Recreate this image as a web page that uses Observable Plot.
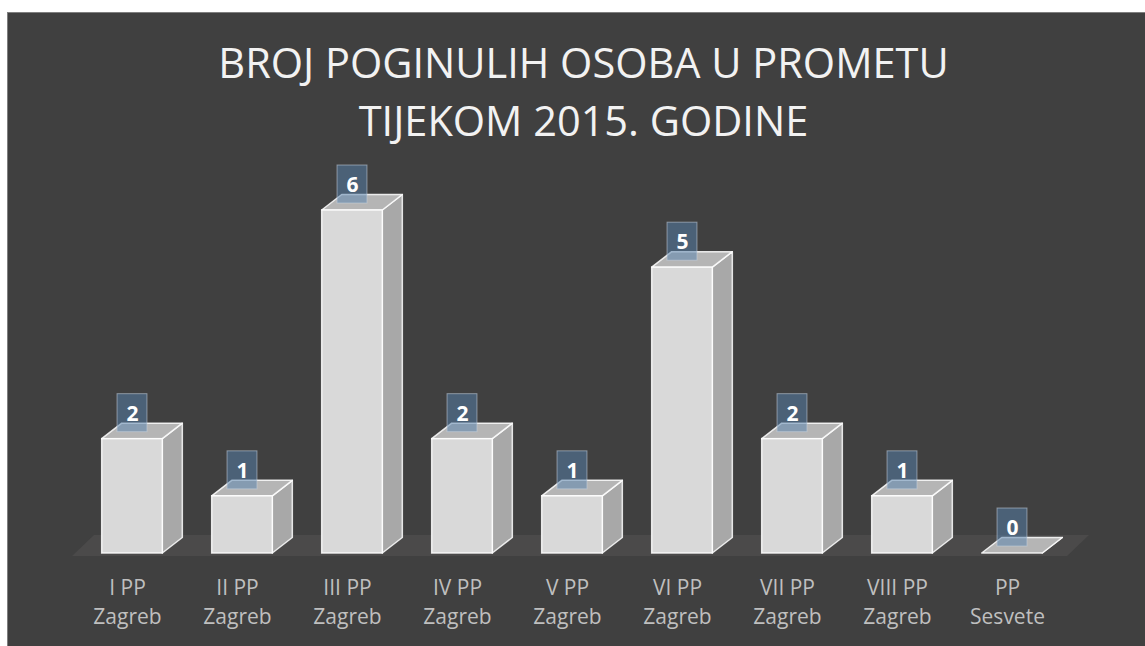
<!DOCTYPE html>
<html>
<head>
<meta charset="utf-8">
<script src="https://cdn.jsdelivr.net/npm/d3@7"></script>
<script src="https://cdn.jsdelivr.net/npm/@observablehq/plot@0.6"></script>
<style>
  html, body { margin: 0; padding: 0; background: #ffffff; width: 1145px; height: 646px; overflow: hidden; }
  #panel { position: absolute; left: 7px; top: 12px; width: 1140px; height: 640px; background: #404040;
           border-left: 1.5px solid #7f7f7f; border-top: 1.5px solid #7f7f7f; }
  #title { position: absolute; left: 11px; top: 33px; width: 1145px; text-align: center;
           font-family: "Open Sans", sans-serif; font-weight: 400; font-size: 41.5px; line-height: 58px;
           color: #f2f2f2; white-space: nowrap; }
  #chart { position: absolute; left: 0; top: 160px; }
</style>
</head>
<body>
<div id="panel"></div>
<div id="title">BROJ POGINULIH OSOBA U PROMETU<br>TIJEKOM 2015. GODINE</div>
<div id="chart"></div>
<script>
const categories = ["I PP\nZagreb", "II PP\nZagreb", "III PP\nZagreb", "IV PP\nZagreb", "V PP\nZagreb",
                    "VI PP\nZagreb", "VII PP\nZagreb", "VIII PP\nZagreb", "PP\nSesvete"];
const values = [2, 1, 6, 2, 1, 5, 2, 1, 0];

const bars = categories.map((c, i) => ({i, cat: c, v: values[i]}));

// 3D geometry (in scale units)
const hw = 0.2755;   // half bar width
const ddx = 0.182;   // depth offset in x
const ddy = 0.271;   // depth offset in y

const sideFaces = bars.flatMap(d => [
  {i: d.i, x: d.i + hw, y1: 0, y2: d.v},
  {i: d.i, x: d.i + hw + ddx, y1: ddy, y2: d.v + ddy}
]);
const topFaces = bars.flatMap(d => [
  {i: d.i, x: d.i - hw, y1: d.v, y2: d.v},
  {i: d.i, x: d.i - hw + ddx, y1: d.v, y2: d.v + ddy},
  {i: d.i, x: d.i + hw, y1: d.v, y2: d.v + ddy},
  {i: d.i, x: d.i + hw + ddx, y1: d.v + ddy, y2: d.v + ddy}
]);
const fx0 = -0.545, fx1 = 8.5, fdx = 0.2, fy0 = -0.052, fy1 = 0.315;
const floorFace = [
  {x: fx0, y1: fy0, y2: fy0},
  {x: fx0 + fdx, y1: fy0, y2: fy1},
  {x: fx1, y1: fy0, y2: fy1},
  {x: fx1 + fdx, y1: fy1, y2: fy1}
];

const chart = Plot.plot({
  width: 1145,
  height: 486,
  marginLeft: 77,
  marginRight: 78,
  marginTop: 50,
  marginBottom: 93,
  style: {background: "transparent", fontFamily: "'Open Sans', sans-serif", overflow: "visible"},
  x: {domain: [-0.5, 8.5], axis: null},
  y: {domain: [0, 6], axis: null},
  marks: [
    Plot.areaY(floorFace, {x: "x", y1: "y1", y2: "y2", fill: "#4b4a4a"}),
    Plot.areaY(sideFaces, {x: "x", y1: "y1", y2: "y2", z: "i", fill: "#a8a8a8", stroke: "#ffffff", strokeOpacity: 0.85, strokeWidth: 1.5, strokeLinejoin: "round"}),
    Plot.areaY(topFaces, {x: "x", y1: "y1", y2: "y2", z: "i", fill: "#b5b5b5", stroke: "#ffffff", strokeOpacity: 0.85, strokeWidth: 1.5, strokeLinejoin: "round"}),
    Plot.rect(bars, {x1: d => d.i - hw, x2: d => d.i + hw, y1: 0, y2: "v", fill: "#d9d9d9", stroke: "#ffffff", strokeOpacity: 0.85, strokeWidth: 1.5}),
    Plot.rect(bars, {x1: d => d.i - 0.136, x2: d => d.i + 0.136, y1: d => d.v + 0.122, y2: d => d.v + 0.787,
                     fill: "rgb(85,129,174)", fillOpacity: 0.5, stroke: "#c8d4e0", strokeOpacity: 0.55, strokeWidth: 1}),
    Plot.text(bars, {x: "i", y: "v", dy: -25, text: d => String(d.v), fill: "#ffffff", fontWeight: "bold", fontSize: 21}),
    Plot.text(bars, {x: "i", y: 0, dx: -5, dy: 21, text: "cat", lineAnchor: "top", lineHeight: 1.38, fill: "#bfbfbf", fontSize: 21})
  ]
});
document.getElementById("chart").appendChild(chart);
</script>
</body>
</html>
